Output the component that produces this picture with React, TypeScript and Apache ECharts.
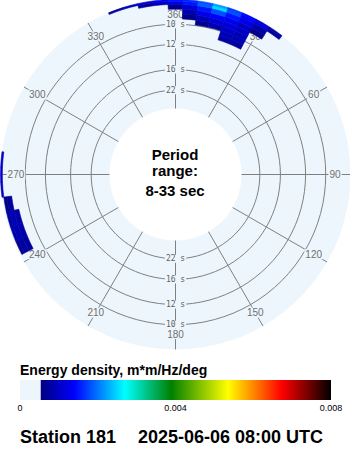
import React, { useEffect, useRef } from 'react';
import * as echarts from 'echarts';

// ---- data ----
const periods = [10, 12, 16, 22]; // ring periods, seconds
const dirTicks = [0, 30, 60, 90, 120, 150, 180, 210, 240, 270, 300, 330];
const dirTickLabels = ['360', '30', '60', '90', '120', '150', '180', '210', '240', '270', '300', '330'];
const freqMin = 1 / 33; // 33 s
const freqMax = 0.1205; // outer edge (~8 s)
const labelFreq = 0.1077; // where direction labels sit
const freqEdges = [0.0925, 0.0965, 0.1005, 0.1045, 0.1085, 0.1125, 0.1165, 0.119, 0.1205];
const dirBinWidth = 5;
const energyUnit = 1e-4; // grid values below are in 1e-4 m*m/Hz/deg

// north-east swell
const northDirs = [340, 345, 350, 355, 0, 5, 10, 15, 20, 25, 30, 35];
const northEnergy = [
  [0, 0, 0, 0, 0, 0, 0, 0, 8, 7, 0, 0],
  [0, 0, 0, 0, 0, 0, 0, 0, 9, 9, 0, 0],
  [0, 0, 0, 0, 0, 0, 6, 8, 10, 9, 0, 0],
  [0, 0, 0, 0, 0, 6, 9, 11, 11, 10, 0, 0],
  [0, 0, 0, 0, 0, 8, 12, 14, 13, 10, 6, 0],
  [0, 0, 0, 0, 6, 11, 15, 18, 15, 12, 8, 0],
  [0, 0, 7, 9, 12, 15, 19, 25, 18, 14, 11, 7],
  [7, 9, 11, 13, 15, 16, 18, 22, 17, 14, 11, 8],
];

// west-south-west swell
const westDirs = [245, 250, 255, 260, 265, 270, 275];
const westEnergy = [
  [0, 0, 0, 0, 0, 0, 0],
  [0, 0, 0, 0, 0, 0, 0],
  [0, 0, 0, 0, 0, 0, 0],
  [0, 0, 0, 0, 0, 0, 0],
  [7, 8, 8, 0, 0, 0, 0],
  [8, 9, 9, 7, 0, 0, 0],
  [6, 8, 8, 6, 0, 0, 0],
  [0, 0, 0, 0, 10, 10, 10],
];

// colour scale
const scaleMax = 0.008;
const zeroBand = scaleMax / 15;
const cbTicks = [0, 0.004, 0.008];
const cbTickLabels = ['0', '0.004', '0.008'];
const paletteStops: [number, string][] = [
  [0, '#000080'],
  [0.117, '#0000ff'],
  [0.29, '#00ffff'],
  [0.45, '#008000'],
  [0.645, '#ffff00'],
  [0.83, '#ff0000'],
  [1, '#000000'],
];

const stationText = 'Station 181';
const timeText = '2025-06-06 08:00 UTC';

// ---- styles ----
const DISK = '#eef6fd';
const GRID = '#808080';
const SANS = '"Liberation Sans", Arial, Helvetica, sans-serif';

function hexToRgb(h: string) {
  const n = parseInt(h.slice(1), 16);
  return [(n >> 16) & 255, (n >> 8) & 255, n & 255];
}
function colorFor(v: number) {
  let t = (v - zeroBand) / (scaleMax - zeroBand);
  t = Math.max(0, Math.min(1, t));
  for (let i = 1; i < paletteStops.length; i++) {
    const [o1, c1] = paletteStops[i - 1];
    const [o2, c2] = paletteStops[i];
    if (t <= o2) {
      const k = (t - o1) / (o2 - o1);
      const a = hexToRgb(c1);
      const b = hexToRgb(c2);
      const m = a.map((x, j) => Math.round(x + (b[j] - x) * k));
      return `rgb(${m[0]},${m[1]},${m[2]})`;
    }
  }
  return paletteStops[paletteStops.length - 1][1];
}

function buildCells(dirs: number[], grid: number[][]) {
  const out: number[][] = [];
  grid.forEach((row, i) => {
    row.forEach((v, j) => {
      if (v > 0) {
        const fLo = freqEdges[i];
        const fHi = freqEdges[i + 1];
        out.push([(fLo + fHi) / 2, dirs[j], fLo, fHi, v * energyUnit]);
      }
    });
  });
  return out;
}

const norm = (d: number) => ((d % 360) + 360) % 360;

const cbLeft = 20;
const cbRight = 331;
const cbTop = 380;
const cbH = 20;
const xOf = (v: number) => cbLeft + (v / scaleMax) * (cbRight - cbLeft);

export default function App() {
  const ref = useRef<HTMLDivElement>(null);
  useEffect(() => {
    const chart = echarts.init(ref.current!, null, { renderer: 'svg' });
    const cells = [...buildCells(northDirs, northEnergy), ...buildCells(westDirs, westEnergy)];

    const centerOf = (params: any) => [params.coordSys.cx, params.coordSys.cy];

    const option: any = {
      animation: false,
      polar: { center: [175.5, 174.5], radius: [66, 175] },
      radiusAxis: {
        type: 'value',
        min: freqMin,
        max: freqMax,
        axisLine: { show: false },
        axisTick: { show: false },
        axisLabel: { show: false },
        splitLine: { show: false },
      },
      angleAxis: {
        type: 'value',
        min: 0,
        max: 360,
        startAngle: 90,
        clockwise: true,
        axisLine: { show: false },
        axisTick: { show: false },
        axisLabel: { show: false },
        splitLine: { show: false },
      },
      series: [
        {
          type: 'custom',
          coordinateSystem: 'polar',
          z: 1,
          silent: true,
          data: [[freqMin, 0]],
          renderItem: (params: any) => {
            const cs = params.coordSys;
            return { type: 'ring', shape: { cx: cs.cx, cy: cs.cy, r: cs.r, r0: cs.r0 }, style: { fill: DISK } };
          },
        },
        {
          type: 'custom',
          coordinateSystem: 'polar',
          z: 2,
          silent: true,
          data: periods.map((T) => [1 / T, 0]),
          renderItem: (params: any, api: any) => {
            const [cx, cy] = centerOf(params);
            const p = api.coord([api.value(0), 0]);
            const r = Math.hypot(p[0] - cx, p[1] - cy);
            return { type: 'circle', shape: { cx, cy, r }, style: { fill: 'none', stroke: GRID, lineWidth: 1 } };
          },
        },
        {
          type: 'custom',
          coordinateSystem: 'polar',
          z: 2,
          silent: true,
          data: dirTicks.map((d) => [freqMin, d]),
          renderItem: (params: any, api: any) => {
            const d = api.value(1);
            const p0 = api.coord([freqMin, d]);
            const p1 = api.coord([freqMax, d]);
            return {
              type: 'line',
              shape: { x1: p0[0], y1: p0[1], x2: p1[0], y2: p1[1] },
              style: { stroke: GRID, lineWidth: 1 },
            };
          },
        },
        {
          type: 'custom',
          coordinateSystem: 'polar',
          z: 3,
          silent: true,
          data: dirTicks.map((d, i) => [labelFreq, d, i]),
          renderItem: (params: any, api: any) => {
            const p = api.coord([labelFreq, api.value(1)]);
            return {
              type: 'text',
              x: p[0],
              y: p[1],
              style: {
                text: dirTickLabels[api.value(2)],
                fill: '#707070',
                font: `10px ${SANS}`,
                align: 'center',
                verticalAlign: 'middle',
                backgroundColor: DISK,
                padding: [0, 1],
              },
            };
          },
        },
        {
          type: 'custom',
          coordinateSystem: 'polar',
          z: 3,
          silent: true,
          data: periods.flatMap((T) => [
            [1 / T, 0, T],
            [1 / T, 180, T],
          ]),
          renderItem: (params: any, api: any) => {
            const p = api.coord([api.value(0), api.value(1)]);
            return {
              type: 'text',
              x: p[0],
              y: p[1],
              style: {
                text: `${api.value(2)} s`,
                fill: '#606060',
                font: '8px "DejaVu Sans Mono", monospace',
                align: 'center',
                verticalAlign: 'middle',
                backgroundColor: DISK,
                padding: [0, 1],
              },
            };
          },
        },
        {
          type: 'custom',
          coordinateSystem: 'polar',
          z: 4,
          silent: true,
          data: cells,
          renderItem: (params: any, api: any) => {
            const [cx, cy] = centerOf(params);
            const d1 = norm(api.value(1) - dirBinWidth / 2);
            const p0 = api.coord([api.value(2), d1]);
            const p1 = api.coord([api.value(3), d1]);
            const r0 = Math.hypot(p0[0] - cx, p0[1] - cy);
            const r = Math.hypot(p1[0] - cx, p1[1] - cy);
            const a1 = Math.atan2(p0[1] - cy, p0[0] - cx);
            const a2 = a1 + (dirBinWidth * Math.PI) / 180;
            const c = colorFor(api.value(4));
            return {
              type: 'sector',
              shape: { cx, cy, r0, r, startAngle: a1, endAngle: a2, clockwise: true },
              style: { fill: c, stroke: c, lineWidth: 0.6 },
            };
          },
        },
      ],
      graphic: [
        { type: 'text', x: 175, y: 154, style: { text: 'Period', font: `bold 15px ${SANS}`, fill: '#000', align: 'center', verticalAlign: 'middle' } },
        { type: 'text', x: 175, y: 170, style: { text: 'range:', font: `bold 15px ${SANS}`, fill: '#000', align: 'center', verticalAlign: 'middle' } },
        { type: 'text', x: 175, y: 190, style: { text: '8-33 sec', font: `bold 15px ${SANS}`, fill: '#000', align: 'center', verticalAlign: 'middle' } },
        { type: 'text', x: 20, y: 370, style: { text: 'Energy density, m*m/Hz/deg', font: `bold 14px ${SANS}`, fill: '#000', align: 'left', verticalAlign: 'middle' } },
        { type: 'rect', shape: { x: xOf(0), y: cbTop, width: xOf(zeroBand) - xOf(0), height: cbH }, style: { fill: DISK } },
        {
          type: 'rect',
          shape: { x: xOf(zeroBand), y: cbTop, width: xOf(scaleMax) - xOf(zeroBand), height: cbH },
          style: {
            fill: new echarts.graphic.LinearGradient(
              0, 0, 1, 0,
              paletteStops.map(([offset, color]) => ({ offset, color }))
            ),
          },
        },
        ...cbTicks.map((v, i) => ({
          type: 'text',
          x: xOf(v),
          y: 408,
          style: { text: cbTickLabels[i], font: `9px ${SANS}`, fill: '#000', align: 'center', verticalAlign: 'middle' },
        })),
        { type: 'text', x: 20, y: 437, style: { text: stationText, font: `bold 18px ${SANS}`, fill: '#000', align: 'left', verticalAlign: 'middle' } },
        { type: 'text', x: 138, y: 437, style: { text: timeText, font: `bold 18px ${SANS}`, fill: '#000', align: 'left', verticalAlign: 'middle' } },
      ],
    };
    chart.setOption(option);
    return () => chart.dispose();
  }, []);
  return (
    <div
      ref={ref}
      style={{ position: 'absolute', left: 0, top: 0, width: 350, height: 450, background: '#fff' }}
    />
  );
}
